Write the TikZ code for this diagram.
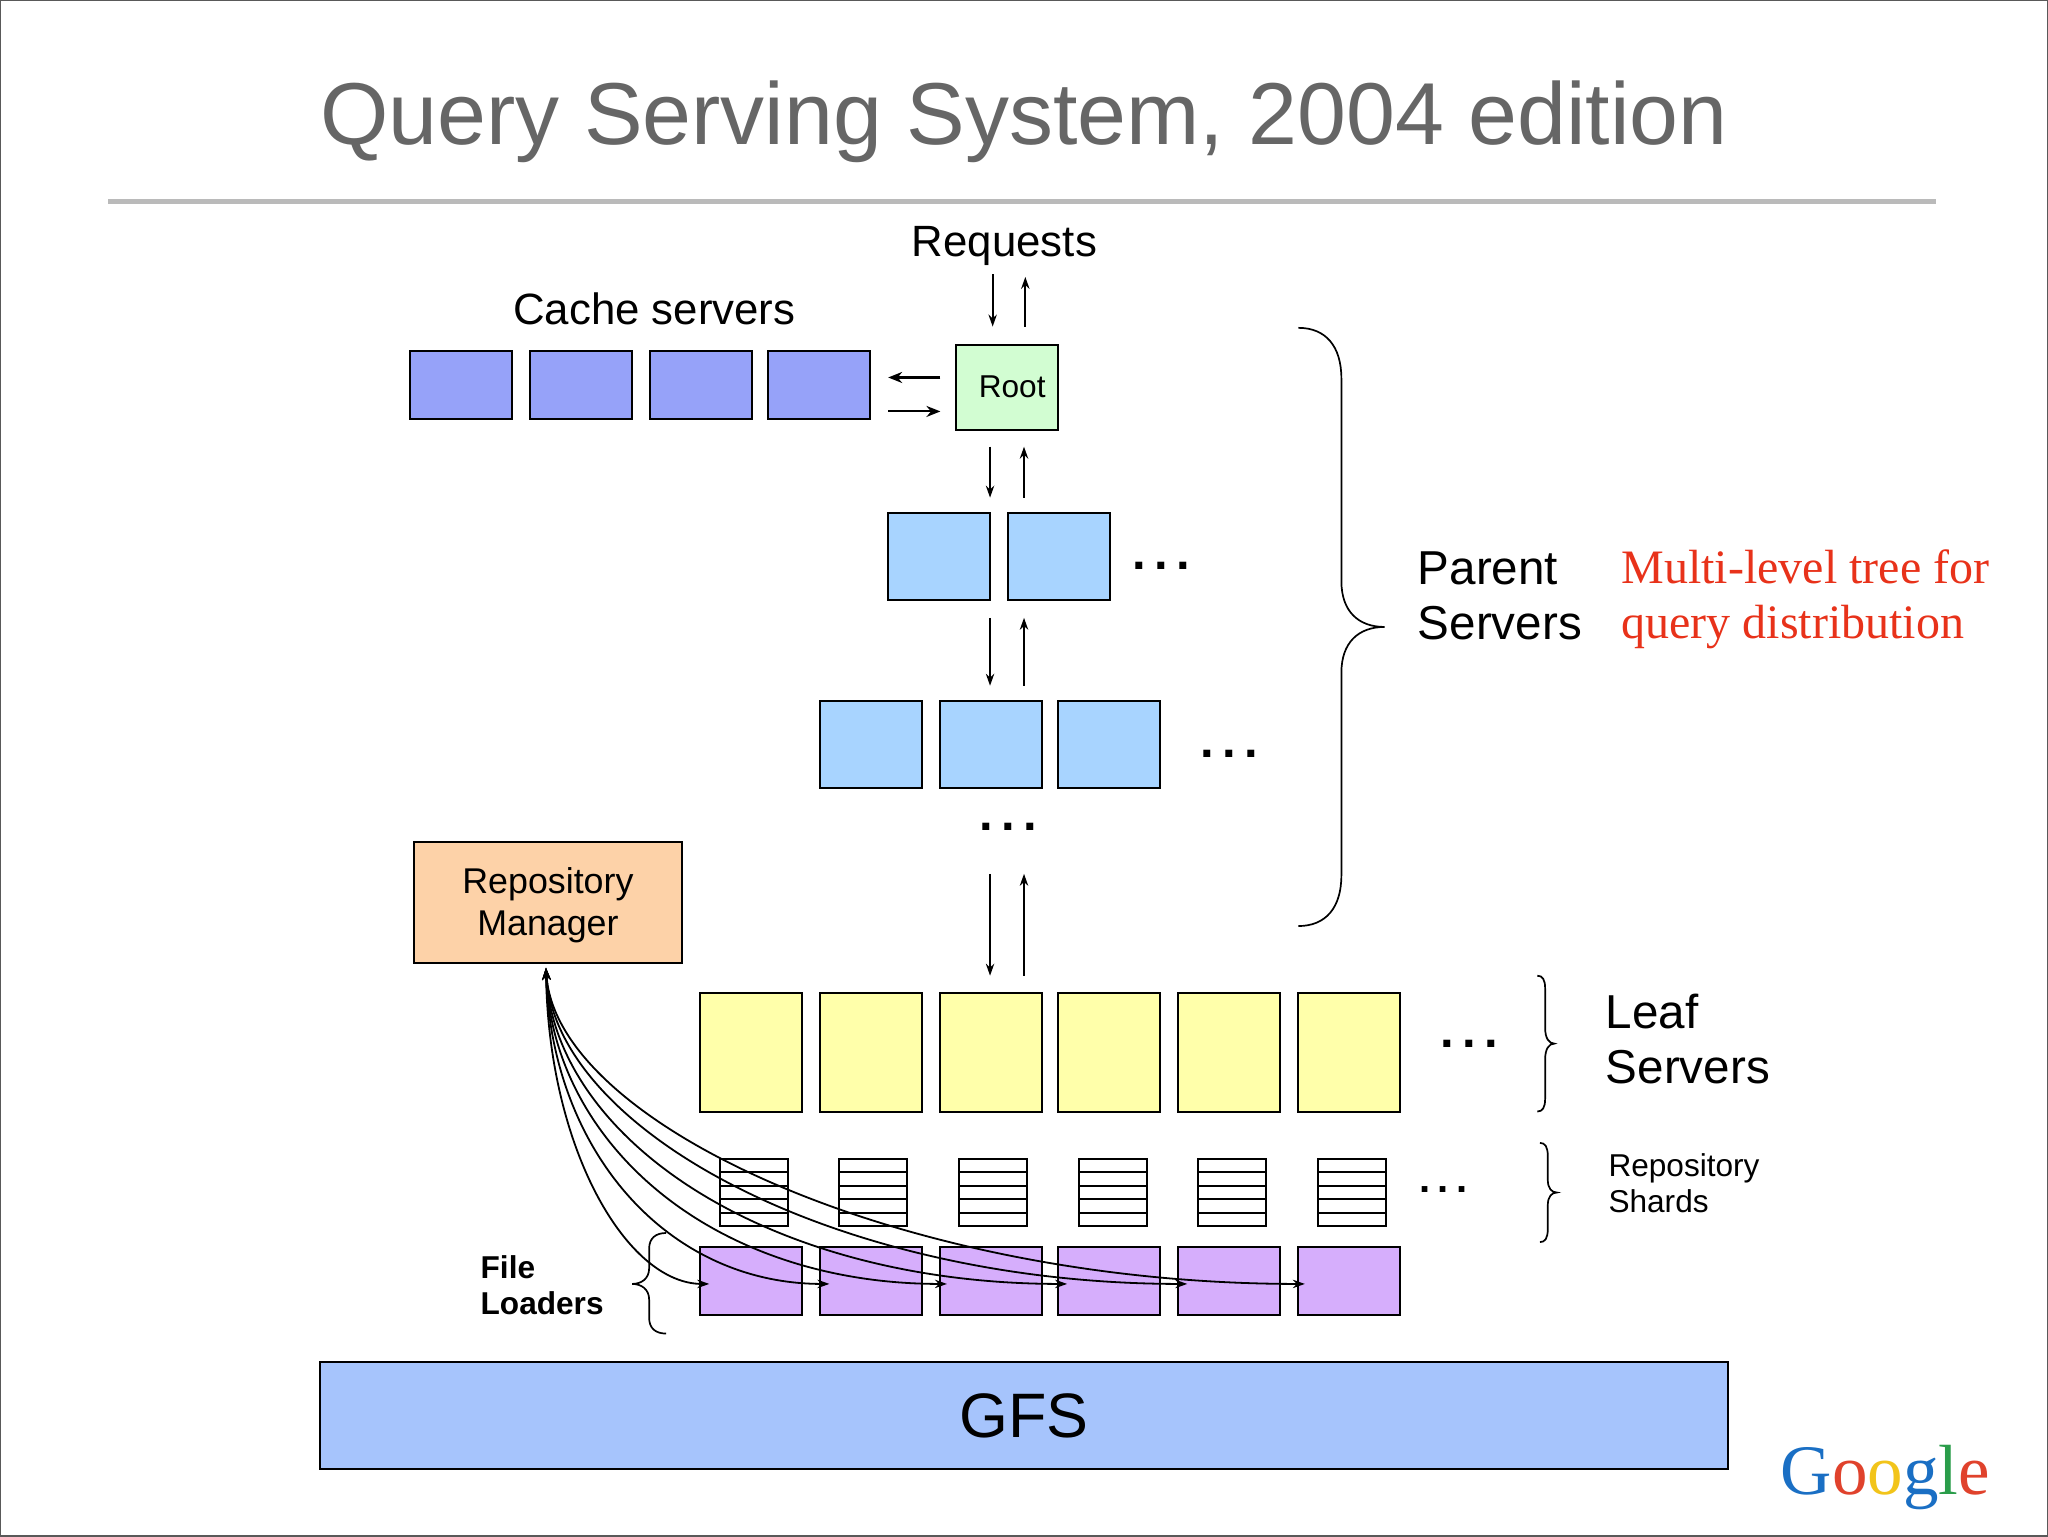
\documentclass[tikz,border=0pt]{standalone}
\usepackage{fontspec}
\setmainfont{Liberation Sans}
\newfontfamily\serifrm{Liberation Serif}
\usetikzlibrary{arrows.meta}
\def\uu{0.65306pt}
\definecolor{cachecol}{HTML}{96A2F9}
\definecolor{rootcol}{HTML}{D2FDD2}
\definecolor{parentcol}{HTML}{A8D4FF}
\definecolor{leafcol}{HTML}{FFFFAA}
\definecolor{loadcol}{HTML}{D6AEFC}
\definecolor{gfscol}{HTML}{A6C4FC}
\definecolor{mgrcol}{HTML}{FDD2A8}
\definecolor{redtxt}{HTML}{E8321A}
\newcommand{\fsz}[2]{\fontsize{#1}{#2}\selectfont}
\newcommand{\threedots}{\fsz{24.5}{24}\bfseries .\kern4.2pt.\kern4.2pt.}
\tikzset{
  x=\uu, y=-\uu,
  box/.style={draw=black,line width=1pt,inner sep=0pt,outer sep=0pt},
  cachebox/.style={box,fill=cachecol,minimum width=78*\uu,minimum height=52*\uu},
  rootbox/.style={box,fill=rootcol,minimum width=78*\uu,minimum height=65*\uu,font=\fsz{15.8}{18}},
  parentbox/.style={box,fill=parentcol,minimum width=78*\uu,minimum height=66*\uu},
  leafbox/.style={box,fill=leafcol,minimum width=78*\uu,minimum height=91*\uu},
  loadbox/.style={box,fill=loadcol,minimum width=78*\uu,minimum height=52*\uu},
  shardbox/.style={box,minimum width=52*\uu,minimum height=52*\uu},
  gfsbox/.style={box,fill=gfscol,minimum width=1078*\uu,minimum height=82*\uu,font=\fsz{31.4}{36}},
  mgrbox/.style={box,fill=mgrcol,minimum width=205*\uu,minimum height=92*\uu,font=\fsz{17.9}{21.1}},
  txt/.style={inner sep=0pt,outer sep=0pt},
  lab/.style={txt,font=\fsz{21.9}{26}},
  big/.style={txt,font=\fsz{23.8}{27.4},align=left},
  small/.style={txt,font=\fsz{15.8}{18.3},align=left},
  red/.style={txt,text=redtxt,font=\serifrm\fsz{24}{27.4},align=left},
  dotsn/.style={txt,anchor=base},
  flow/.style={line width=0.9pt,-{Stealth[length=6pt,width=4.2pt]}},
  feed/.style={line width=0.9pt,{Stealth[length=6pt,width=4.2pt]}-{Stealth[length=6pt,width=4.2pt]}},
  bracep/.style={line width=0.85pt},
}
\begin{document}
\begin{tikzpicture}
\useasboundingbox (0,0) rectangle (1568,1176);
\fill[white] (0,0) rectangle (1568,1176);
\draw[draw=black!65,line width=1.2pt] (0,0) rectangle (1568,1176);
% title
\node[txt,anchor=base,text=black!60,font=\fsz{43.95}{50}] (title) at (784,111) {Query Serving System, 2004 edition};
\coordinate (ruleL) at (83,154); \coordinate (ruleR) at (1482,154);
\draw[black!27,line width=2.6pt] (ruleL) -- (ruleR);
% labels
\node[lab,anchor=base] (req) at (769,196) {Requests};
\node[lab,anchor=base] (cachelab) at (501,248.2) {Cache servers};
% cache and root
\node[cachebox] (c1) at (353,295) {};
\node[cachebox] (c2) at (445,295) {};
\node[cachebox] (c3) at (537,295) {};
\node[cachebox] (c4) at (627,295) {};
\node[rootbox] (root) at (771,296.5) {\hspace{5.2pt}Root};
% parents
\node[parentbox] (p1) at (719,426) {};
\node[parentbox] (p2) at (811,426) {};
\node[parentbox] (q1) at (667,570) {};
\node[parentbox] (q2) at (759,570) {};
\node[parentbox] (q3) at (849,570) {};
% leaves
\foreach \n/\cx in {1/575,2/667,3/759,4/849,5/941,6/1033}{
  \node[leafbox] (l\n) at (\cx,805.5) {};
  \node[loadbox] (f\n) at (\cx,981) {};
}
% shards
\foreach \n/\cx in {1/577,2/668.5,3/760,4/852,5/943,6/1035}{
  \node[shardbox] (s\n) at (\cx,913) {};
  \foreach \k in {-15.6,-5.2,5.2,15.6}{
    \draw[line width=1pt] ([yshift=\k*\uu]s\n.west) -- ([yshift=\k*\uu]s\n.east);
  }
}
\node[mgrbox] (mgr) at (419.5,691) {};
\node[txt,align=center,font=\fsz{17.9}{21.1}] (mgrtxt) at (419.5,693) {Repository\\Manager};
\node[gfsbox] (gfs) at (784,1084) {\raisebox{-0.7pt}{GFS}};
% dots
\node[dotsn] (d1) at (889,436) {\threedots};
\node[dotsn] (d2) at (941,580) {\threedots};
\node[dotsn] (d3) at (772,635.5) {\threedots};
\node[dotsn] (d4) at (1125,802) {\threedots};
\node[txt,anchor=base,font=\fsz{20}{20}\bfseries] (d5) at (1105,913) {.\kern3.6pt.\kern3.6pt.};
% right labels
\node[big,anchor=west] (parentlab) at (1085.5,456.5) {Parent\\Servers};
\node[red,anchor=west] (redlab) at (1241.5,459) {Multi-level tree for\\query distribution};
\node[big,anchor=west] (leaflab) at (1229.5,795.5) {Leaf\\Servers};
\node[small,anchor=west] (shardlab) at (1231.5,905.8) {Repository\\Shards};
\node[small,anchor=west,font=\fsz{15.8}{18.3}\bfseries] (filelab) at (368,984) {File\\Loaders};
% straight arrows
\coordinate (a1) at (760,210); \coordinate (a2) at (760,250);
\coordinate (a3) at (785,250); \coordinate (a4) at (785,212);
\coordinate (a5) at (720,289); \coordinate (a6) at (680,289);
\coordinate (a7) at (680,315); \coordinate (a8) at (720,315);
\coordinate (a9) at (758,342); \coordinate (a10) at (758,381);
\coordinate (a11) at (784,381); \coordinate (a12) at (784,342);
\coordinate (a13) at (758,473); \coordinate (a14) at (758,525);
\coordinate (a15) at (784,525); \coordinate (a16) at (784,473);
\coordinate (a17) at (758,669); \coordinate (a18) at (758,747);
\coordinate (a19) at (784,747); \coordinate (a20) at (784,669);
\foreach \s/\t in {a1/a2,a3/a4,a9/a10,a11/a12,a13/a14,a15/a16,a17/a18,a19/a20}{
  \draw[flow] (\s) -- (\t);
}
\foreach \s/\t in {a5/a6,a7/a8}{
  \draw[line width=1.05pt,-{Stealth[length=7pt,width=5.5pt]}] (\s) -- (\t);
}
% braces
\draw[bracep] (994,251) .. controls (1015,251) and (1027,265) .. (1027,290) -- (1027,445)
  .. controls (1027,468) and (1040,480) .. (1060,480)
  .. controls (1040,480) and (1027,492) .. (1027,515) -- (1027,670)
  .. controls (1027,695) and (1015,709) .. (994,709);
\draw[bracep] (1177,747) .. controls (1181,747) and (1183,750) .. (1183,757) -- (1183,787)
  .. controls (1183,795) and (1186,799) .. (1190,799)
  .. controls (1186,799) and (1183,803) .. (1183,811) -- (1183,841)
  .. controls (1183,848) and (1181,851) .. (1177,851);
\draw[bracep] (1179,875) .. controls (1183,875) and (1185,878) .. (1185,885) -- (1185,903)
  .. controls (1185,910) and (1188,913) .. (1192,913)
  .. controls (1188,913) and (1185,916) .. (1185,923) -- (1185,941)
  .. controls (1185,948) and (1183,951) .. (1179,951);
\draw[bracep] (510,944) .. controls (502,944) and (497,948) .. (497,956) -- (497,971)
  .. controls (497,979) and (491,983) .. (484,983)
  .. controls (491,983) and (497,987) .. (497,995) -- (497,1009)
  .. controls (497,1017) and (502,1021) .. (510,1021);
% curves
\coordinate (mgrin) at (418,741);
\coordinate (e1) at (543,983); \coordinate (e2) at (635,983); \coordinate (e3) at (725,983);
\coordinate (e4) at (817,983); \coordinate (e5) at (909,983); \coordinate (e6) at (999,983);
\draw[feed] (mgrin) .. controls (420,880) and (480,983) .. (e1);
\draw[feed] (mgrin) .. controls (422,880) and (510,983) .. (e2);
\draw[feed] (mgrin) .. controls (423,875) and (545,983) .. (e3);
\draw[feed] (mgrin) .. controls (424,870) and (585,983) .. (e4);
\draw[feed] (mgrin) .. controls (425,865) and (640,983) .. (e5);
\draw[feed] (mgrin) .. controls (426,860) and (690,983) .. (e6);
% logo
\node[txt,anchor=base,font=\serifrm\fsz{35.5}{40}] (logo) at (1443.5,1144) {\textcolor[HTML]{1A6FC4}{G}\textcolor[HTML]{E0422C}{o}\textcolor[HTML]{F2C41A}{o}\textcolor[HTML]{1A6FC4}{g}\textcolor[HTML]{2A9D4A}{l}\textcolor[HTML]{E0422C}{e}};
\end{tikzpicture}
\end{document}
